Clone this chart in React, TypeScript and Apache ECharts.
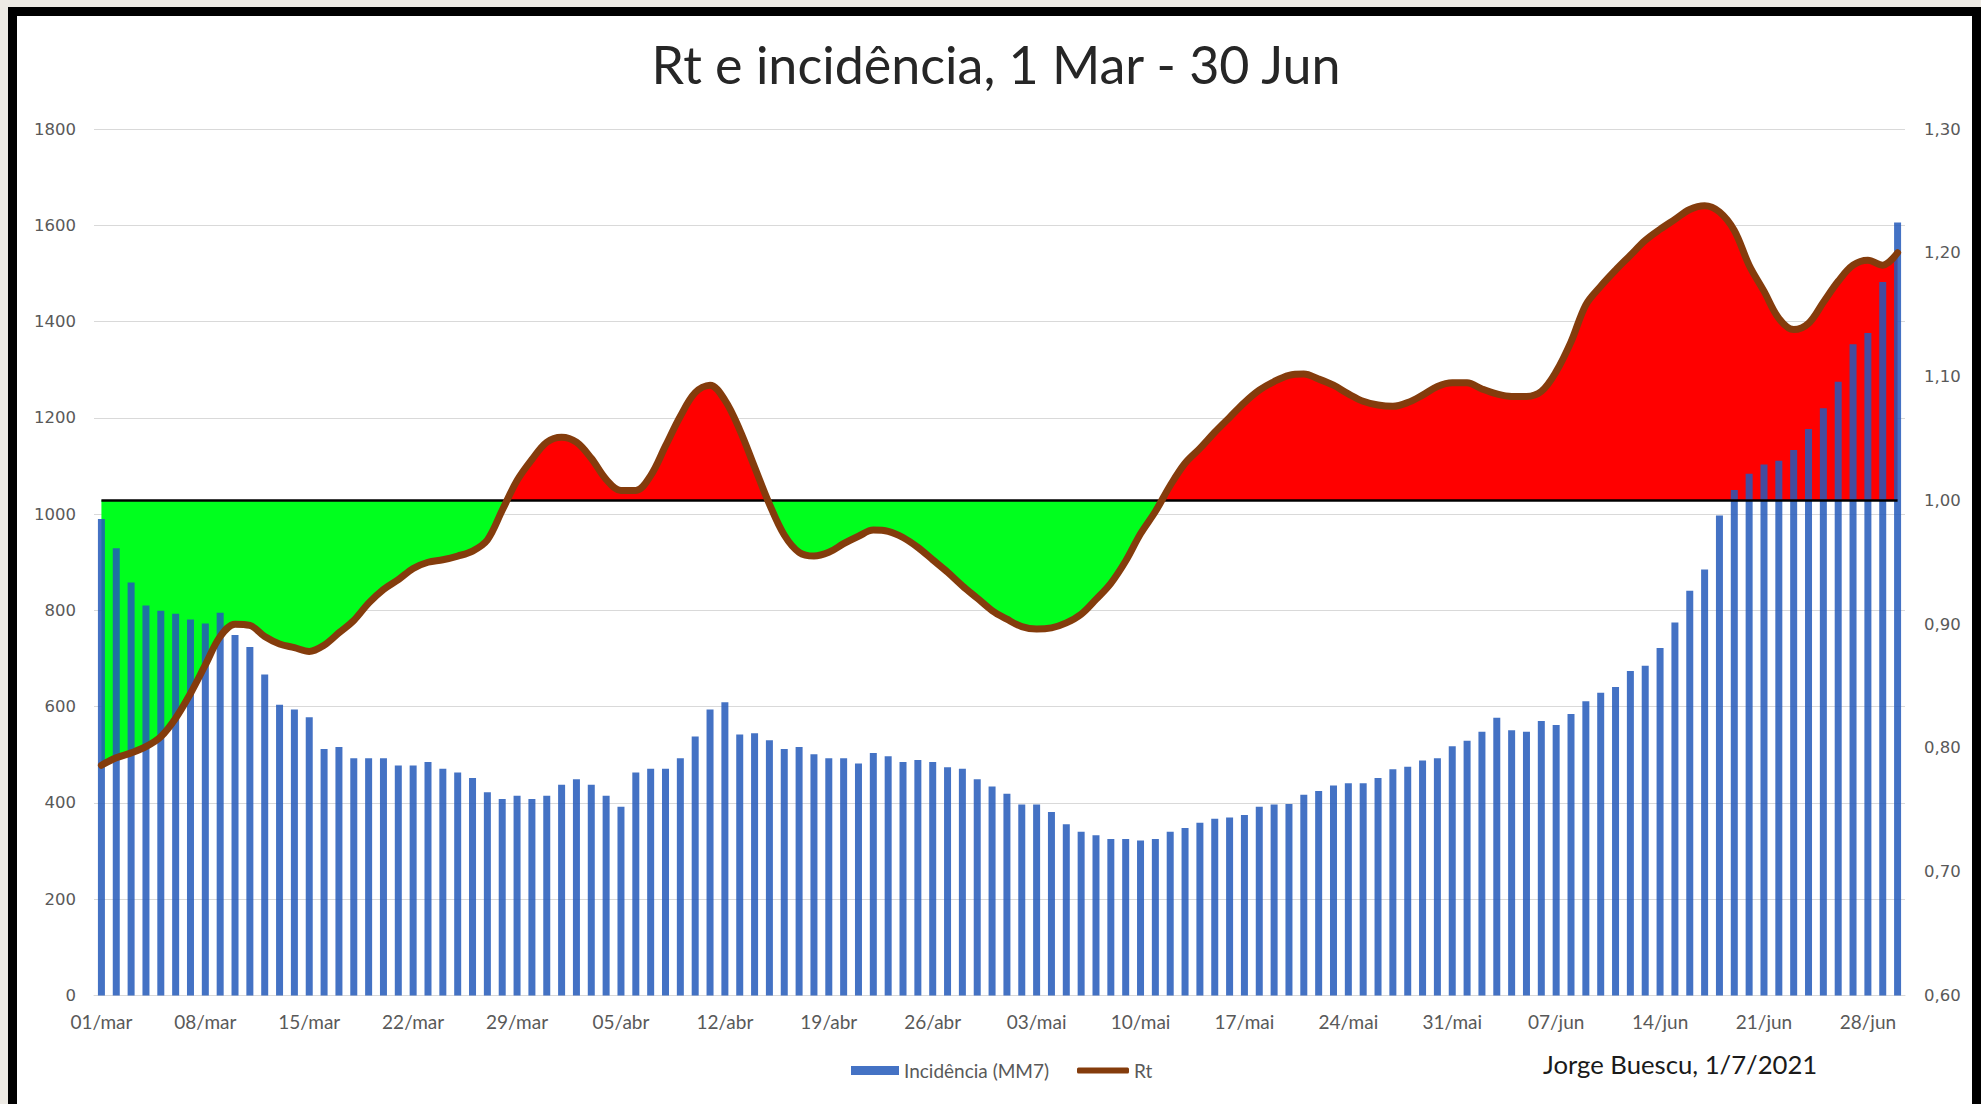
import React, { useEffect, useRef } from 'react';
import * as echarts from 'echarts';

// ---- data ----
const MONTHS = ['mar', 'abr', 'mai', 'jun'];
const MONTH_DAYS = [31, 30, 31, 30];

// Incidência (MM7), 1 Mar .. 30 Jun (daily)
const incidence = [
  990, 929, 858, 810, 799, 793, 781, 773, 795, 749,
  724, 667, 604, 594, 578, 512, 516, 493, 493, 493,
  478, 478, 485, 471, 463, 452, 422, 408, 415, 408,
  415, 438, 449, 438, 415, 392, 463, 471, 471, 493,
  538, 594, 609, 542, 545, 530, 512, 516, 501, 493,
  493, 482, 504, 497, 485, 489, 485, 474, 471, 449,
  434, 419, 397, 397, 381, 356, 340, 333, 325, 325,
  322, 325, 340, 348, 359, 367, 370, 375, 392, 397,
  398, 417, 425, 436, 441, 441, 452, 470, 475, 488,
  493, 518, 529, 548, 577, 551, 548, 570, 562, 585,
  611, 629, 641, 674, 685, 722, 775, 841, 885, 997,
  1050, 1084, 1103, 1111, 1133, 1177, 1220, 1275, 1353, 1376,
  1482, 1606,
];

// Rt, 1 Mar .. 30 Jun (daily)
const rt = [
  0.786, 0.792, 0.796, 0.801, 0.809, 0.824, 0.844, 0.867, 0.890, 0.900,
  0.899, 0.890, 0.884, 0.881, 0.878, 0.883, 0.893, 0.903, 0.917, 0.928,
  0.936, 0.945, 0.950, 0.952, 0.955, 0.959, 0.968, 0.992, 1.016, 1.033,
  1.047, 1.051, 1.047, 1.034, 1.017, 1.008, 1.008, 1.020, 1.044, 1.068,
  1.087, 1.093, 1.081, 1.057, 1.027, 0.997, 0.972, 0.958, 0.955, 0.958,
  0.965, 0.971, 0.976, 0.975, 0.970, 0.962, 0.952, 0.942, 0.931, 0.921,
  0.911, 0.904, 0.898, 0.896, 0.897, 0.901, 0.908, 0.920, 0.933, 0.951,
  0.973, 0.991, 1.012, 1.030, 1.042, 1.055, 1.067, 1.079, 1.089, 1.096,
  1.101, 1.102, 1.098, 1.093, 1.086, 1.080, 1.077, 1.076, 1.079, 1.085,
  1.092, 1.095, 1.095, 1.090, 1.086, 1.084, 1.084, 1.088, 1.104, 1.128,
  1.158, 1.173, 1.186, 1.198, 1.210, 1.219, 1.227, 1.235, 1.238, 1.233,
  1.218, 1.190, 1.169, 1.147, 1.138, 1.143, 1.160, 1.177, 1.190, 1.194,
  1.190, 1.200,
];

const LEFT_MIN = 0;
const LEFT_MAX = 1800;
const LEFT_STEP = 200;
const RT_MIN = 0.6;
const RT_MAX = 1.3;
const RT_STEP = 0.1;
const RT_THRESHOLD = 1.0;

const TITLE = 'Rt e incidência, 1 Mar - 30 Jun';
const SERIES_BAR = 'Incidência (MM7)';
const SERIES_RT = 'Rt';
const CREDIT = 'Jorge Buescu, 1/7/2021';

// ---- layout / style ----
const W = 1981;
const H = 1104;
const GRID = { left: 94, right: 76, top: 129, bottom: 108.5 };
const RED = '#FF0000';
const GREEN = '#00FF1E';
const BROWN = '#843C0C';
const GRAY_TEXT = '#595959';
const GRID_LINE = '#D9D9D9';

export default function App() {
  const ref = useRef<HTMLDivElement>(null);

  useEffect(() => {
    if (!ref.current) return;
    const chart = echarts.init(ref.current, null, { renderer: 'svg' });

    const categories: string[] = [];
    MONTHS.forEach((m, mi) => {
      for (let d = 1; d <= MONTH_DAYS[mi]; d++) {
        categories.push(String(d).padStart(2, '0') + '/' + m);
      }
    });

    const plotTop = GRID.top;
    const plotBottom = H - GRID.bottom;
    const off = (RT_MAX - RT_THRESHOLD) / (RT_MAX - RT_MIN);
    const fill = new echarts.graphic.LinearGradient(
      0, plotTop, 0, plotBottom,
      [
        { offset: 0, color: RED },
        { offset: off, color: RED },
        { offset: off, color: GREEN },
        { offset: 1, color: GREEN },
      ],
      true
    );

    const legendText = { fontFamily: 'Lato', fontSize: 19, color: GRAY_TEXT };

    const option: any = {
      animation: false,
      backgroundColor: 'transparent',
      grid: { ...GRID },
      graphic: [
        {
          type: 'text',
          x: 996,
          y: 64,
          style: {
            text: TITLE,
            fontFamily: 'Lato',
            fontSize: 52,
            fill: '#262626',
            textAlign: 'center',
            textVerticalAlign: 'middle',
          },
        },
        {
          type: 'text',
          x: 1543,
          y: 1064,
          style: {
            text: CREDIT,
            fontFamily: 'Lato',
            fontSize: 25.7,
            fill: '#1a1a1a',
            textAlign: 'left',
            textVerticalAlign: 'middle',
          },
        },
      ],
      legend: [
        {
          data: [{ name: SERIES_BAR, icon: 'rect' }],
          left: 846,
          top: 1056,
          itemWidth: 48,
          itemHeight: 9,
          selectedMode: false,
          itemStyle: { borderWidth: 0 },
          textStyle: legendText,
        },
        {
          data: [{ name: SERIES_RT, icon: 'roundRect' }],
          left: 1072,
          top: 1056,
          itemWidth: 52,
          itemHeight: 6,
          selectedMode: false,
          itemStyle: { borderWidth: 0 },
          textStyle: legendText,
        },
      ],
      xAxis: {
        type: 'category',
        data: categories,
        boundaryGap: true,
        axisLine: { lineStyle: { color: GRID_LINE, width: 1 } },
        axisTick: { interval: 6, length: 6, lineStyle: { color: GRID_LINE } },
        axisLabel: {
          interval: 6,
          margin: 16.5,
          fontFamily: 'Lato',
          fontSize: 19,
          color: GRAY_TEXT,
        },
        splitLine: { show: false },
      },
      yAxis: [
        {
          type: 'value',
          min: LEFT_MIN,
          max: LEFT_MAX,
          interval: LEFT_STEP,
          axisLine: { show: false },
          axisTick: { show: false },
          axisLabel: {
            margin: 18,
            fontFamily: 'DejaVu Sans',
            fontSize: 16.5,
            color: GRAY_TEXT,
            formatter: (v: number) => String(v),
          },
          splitLine: { lineStyle: { color: GRID_LINE, width: 1 } },
        },
        {
          type: 'value',
          min: RT_MIN,
          max: RT_MAX,
          interval: RT_STEP,
          position: 'right',
          axisLine: { show: false },
          axisTick: { show: false },
          axisLabel: {
            margin: 19,
            fontFamily: 'DejaVu Sans',
            fontSize: 16.5,
            color: GRAY_TEXT,
            formatter: (v: number) => v.toFixed(2).replace('.', ','),
          },
          splitLine: { show: false },
        },
      ],
      series: [
        {
          name: 'fill',
          type: 'line',
          yAxisIndex: 1,
          data: rt,
          smooth: 0.35,
          symbol: 'none',
          silent: true,
          z: 1,
          lineStyle: { width: 0, opacity: 0 },
          areaStyle: { origin: RT_THRESHOLD, color: fill, opacity: 1 },
          markLine: {
            silent: true,
            z: 5,
            symbol: ['none', 'none'],
            label: { show: false },
            lineStyle: { color: '#000', width: 2.5, type: 'solid' },
            data: [
              [
                { xAxis: 0, yAxis: RT_THRESHOLD },
                { xAxis: categories.length - 1, yAxis: RT_THRESHOLD },
              ],
            ],
          },
        },
        {
          name: SERIES_BAR,
          type: 'bar',
          yAxisIndex: 0,
          data: incidence,
          barWidth: 7,
          z: 2,
          itemStyle: { color: 'rgba(35,89,186,0.85)' },
        },
        {
          name: SERIES_RT,
          type: 'line',
          yAxisIndex: 1,
          data: rt,
          smooth: 0.35,
          symbol: 'none',
          color: BROWN,
          z: 6,
          lineStyle: { width: 7, color: BROWN, cap: 'round', join: 'round' },
        },
      ],
    };

    chart.setOption(option);
    return () => chart.dispose();
  }, []);

  return (
    <div
      style={{
        position: 'fixed',
        left: 0,
        top: 0,
        width: W,
        height: H,
        background: '#EDEAE4',
        overflow: 'hidden',
      }}
    >
      <div
        style={{
          position: 'absolute',
          left: 8,
          top: 7,
          width: W - 8,
          height: H + 40,
          boxSizing: 'border-box',
          border: '9px solid #000',
          background: '#fff',
        }}
      />
      <div
        ref={ref}
        style={{ position: 'absolute', left: 0, top: 0, width: W, height: H }}
      />
    </div>
  );
}
